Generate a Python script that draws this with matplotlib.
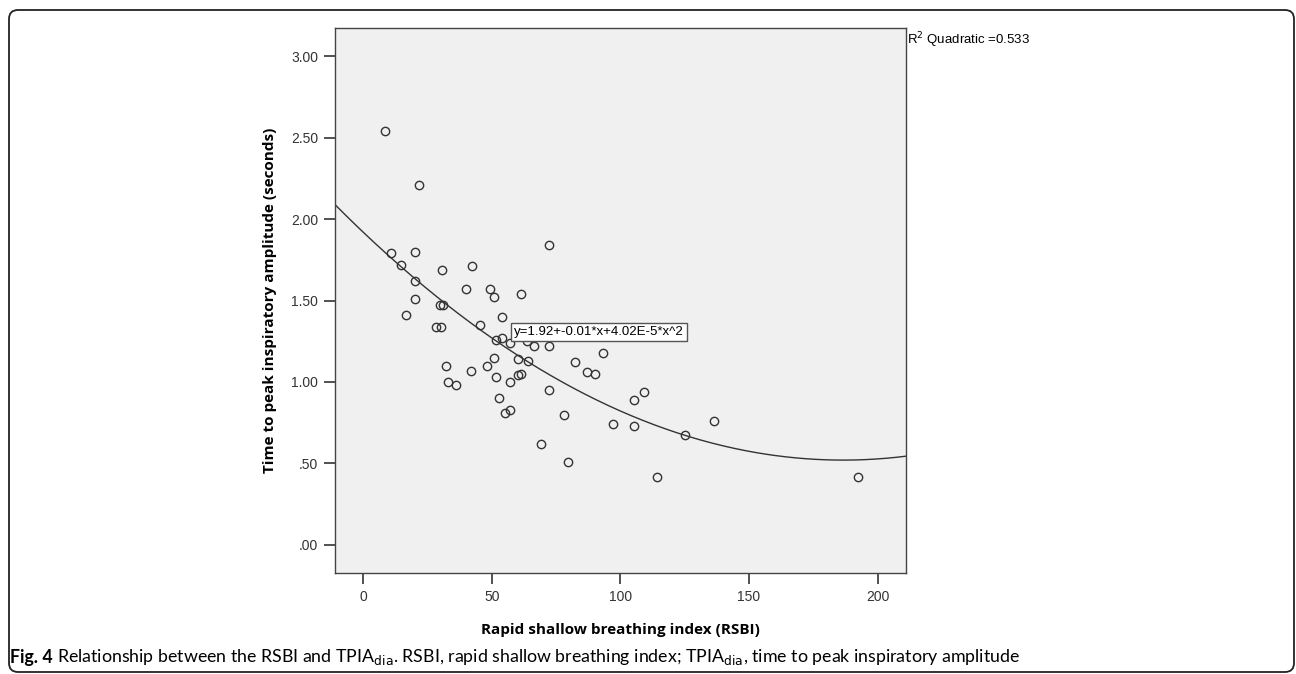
import numpy as np
import matplotlib.pyplot as plt
from matplotlib.patches import FancyBboxPatch

# RSBI vs TPIA (seconds)
rsbi = [8.6, 21.9, 72.2, 11.0, 20.0, 14.9, 30.8, 42.5, 20.1, 40.0,
        49.2, 51.0, 61.5, 20.3, 29.9, 30.9, 16.8, 54.1, 28.2, 30.1,
        45.3, 51.5, 54.1, 57.0, 63.8, 66.3, 72.2, 93.2, 51.0, 48.0,
        60.1, 64.2, 82.3, 32.1, 42.1, 87.1, 90.3, 51.8, 60.1, 61.2,
        57.1, 33.2, 36.2, 72.2, 53.0, 109.2, 105.2, 55.0, 57.1, 78.2,
        97.0, 105.2, 69.1, 79.7, 114.1, 125.3, 136.2, 192.3]
tpia = [2.54, 2.21, 1.84, 1.79, 1.80, 1.72, 1.69, 1.71, 1.62, 1.57,
        1.57, 1.52, 1.54, 1.51, 1.47, 1.47, 1.41, 1.40, 1.34, 1.34,
        1.35, 1.26, 1.27, 1.24, 1.25, 1.22, 1.22, 1.18, 1.15, 1.10,
        1.14, 1.13, 1.12, 1.10, 1.07, 1.06, 1.05, 1.03, 1.04, 1.05,
        1.00, 1.00, 0.98, 0.95, 0.90, 0.94, 0.89, 0.81, 0.83, 0.80,
        0.74, 0.73, 0.62, 0.51, 0.42, 0.675, 0.76, 0.415]

# quadratic fit y = a + b*x + c*x^2
fit_coef = [1.92, -0.015, 4.02e-5]
r2 = 0.533

xticks = [0, 50, 100, 150, 200]
yticks = [0.0, 0.5, 1.0, 1.5, 2.0, 2.5, 3.0]
ytick_labels = ['.00', '.50', '1.00', '1.50', '2.00', '2.50', '3.00']

fig = plt.figure(figsize=(12.96, 6.74), dpi=100)

# rounded frame round the whole figure
frame = FancyBboxPatch((9, 2), 1285, 662, boxstyle='round,pad=0,rounding_size=9',
                       transform=None, fill=False, edgecolor='#222222', linewidth=1.3)
fig.patches.append(frame)

ax = fig.add_axes([335/1296, 1 - 573/674, 571/1296, 545/674])
ax.set_facecolor('#f0f0f0')

xs = np.linspace(-10.9, 211, 400)
a, b, c = fit_coef
ax.plot(xs, a + b*xs + c*xs**2, color='#333333', linewidth=1.0)
ax.plot(rsbi, tpia, 'o', markersize=6, markerfacecolor='none',
        markeredgecolor='#333333', markeredgewidth=1.0)

ax.set_xlim(-10.9, 211)
ax.set_ylim(-0.172, 3.172)
ax.set_xticks(xticks)
ax.set_yticks(yticks)
ax.set_yticklabels(ytick_labels)
for s in ax.spines.values():
    s.set_color('#444444')
    s.set_linewidth(1.0)
ax.tick_params(length=8, width=1.2, color='#333333', labelsize=10,
               labelcolor='#333333', pad=4)
for lab in ax.get_xticklabels() + ax.get_yticklabels():
    lab.set_family('Liberation Sans')

ax.set_xlabel('Rapid shallow breathing index (RSBI)', family='Open Sans',
              fontweight='bold', fontsize=11, labelpad=14)
ax.set_ylabel('Time to peak inspiratory amplitude (seconds)', family='Open Sans',
              fontweight='bold', fontsize=11, labelpad=10)

ax.text(58.8, 1.272, 'y=1.92+-0.01*x+4.02E-5*x^2', family='Liberation Sans',
        fontsize=9.5, ha='left', va='bottom',
        bbox=dict(boxstyle='square,pad=0.22', facecolor='white',
                  edgecolor='#555555', linewidth=1.0))

fig.text(907/1296, 1 - 40/674, r'R$^2$ Quadratic =%.3f' % r2,
         family='Liberation Sans', fontsize=9.5, va='center', ha='left')

fig.text(10/1296, 1 - 657/674, 'Fig. 4', family='Lato', fontweight='bold',
         fontsize=12.8, va='center', ha='left')
fig.text(57/1296, 1 - 657/674,
         r'Relationship between the RSBI and TPIA$_{\mathrm{dia}}$. RSBI, rapid shallow '
         r'breathing index; TPIA$_{\mathrm{dia}}$, time to peak inspiratory amplitude',
         family='Lato', fontsize=12.8, va='center', ha='left')

fig.savefig('out.png', dpi=100)
